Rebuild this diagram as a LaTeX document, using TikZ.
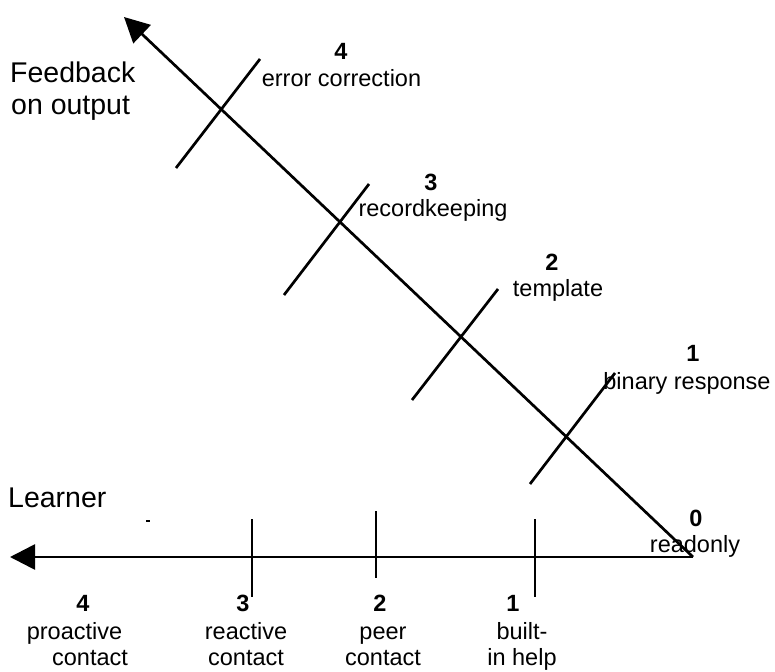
\documentclass[tikz,border=0pt]{standalone}
\usepackage{fontspec}
\setmainfont{Liberation Sans}
\usetikzlibrary{arrows.meta}
\begin{document}
\begin{tikzpicture}[x=1pt,y=-1pt,
  axis/.style={line width=2.7pt,-{Triangle[length=25pt,width=25pt]}},
  tickline/.style={line width=2.7pt},
  lbl/.style={inner sep=0pt,anchor=base,font=\fontsize{23.5}{28}\selectfont},
  num/.style={lbl,font=\fontsize{23.5}{28}\selectfont\bfseries},
  ttl/.style={inner sep=0pt,anchor=base west,font=\fontsize{28.5}{34}\selectfont}]
\useasboundingbox (0,0) rectangle (775,671);
% axes
\coordinate (O) at (693,557);
\coordinate (tipH) at (10,557);
\coordinate (tipD) at (124,17);
\draw[axis] (O) -- (tipH);
\draw[axis] (O) -- (tipD);
% horizontal ticks
\coordinate (h1a) at (535,519); \coordinate (h1b) at (535,597);
\coordinate (h2a) at (376,511); \coordinate (h2b) at (376,578);
\coordinate (h3a) at (252,519); \coordinate (h3b) at (252,597);
\draw[tickline] (h1a) -- (h1b);
\draw[tickline] (h2a) -- (h2b);
\draw[tickline] (h3a) -- (h3b);
% diagonal ticks
\coordinate (d4a) at (176,168); \coordinate (d4b) at (260,59);
\coordinate (d3a) at (284,295); \coordinate (d3b) at (369,184);
\coordinate (d2a) at (412,400); \coordinate (d2b) at (498,289);
\coordinate (d1a) at (530,484); \coordinate (d1b) at (615,373);
\draw[tickline] (d4a) -- (d4b);
\draw[tickline] (d3a) -- (d3b);
\draw[tickline] (d2a) -- (d2b);
\draw[tickline] (d1a) -- (d1b);
% small stray mark
\coordinate (ma) at (146,521); \coordinate (mb) at (150,521);
\draw[line width=1.2pt] (ma) -- (mb);
% titles
\node[ttl] (fb1) at (10,82.7) {Feedback};
\node[ttl] (fb2) at (11,115) {on output};
\node[ttl] (lrn) at (8,507) {Learner};
% diagonal labels
\node[num] (n4) at (341,60) {4};
\node[lbl] (l4) at (341.5,87) {error correction};
\node[num] (n3) at (431,190) {3};
\node[lbl] (l3) at (433,216.5) {recordkeeping};
\node[num] (n2) at (552,270) {2};
\node[lbl] (l2) at (558,296.5) {template};
\node[num] (n1) at (693,361.5) {1};
\node[lbl] (l1) at (687,389) {binary response};
\node[num] (n0) at (696,526) {0};
\node[lbl] (l0) at (695,552.5) {readonly};
% bottom labels
\node[num] (b4) at (83,611) {4};
\node[lbl] (b4a) at (74.5,639) {proactive};
\node[lbl] (b4b) at (90,665.5) {contact};
\node[num] (b3) at (243,611) {3};
\node[lbl] (b3a) at (246,639) {reactive};
\node[lbl] (b3b) at (246,665.5) {contact};
\node[num] (b2) at (380,611) {2};
\node[lbl] (b2a) at (383,639) {peer};
\node[lbl] (b2b) at (383,665.5) {contact};
\node[num] (b1) at (513,611) {1};
\node[lbl] (b1a) at (522,639) {built-};
\node[lbl] (b1b) at (522,665.5) {in help};
\end{tikzpicture}
\end{document}
